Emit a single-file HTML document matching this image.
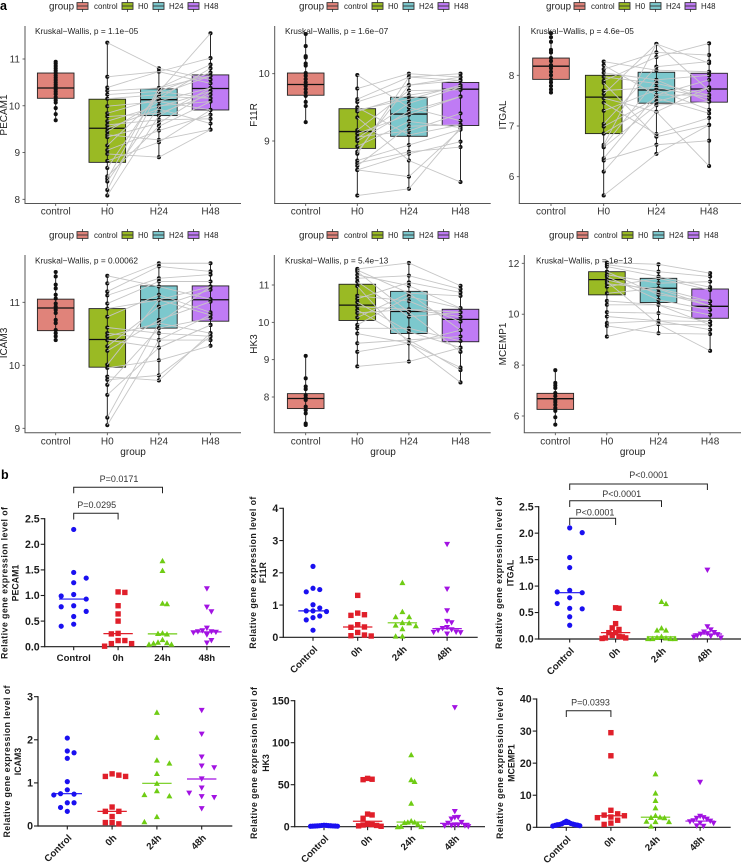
<!DOCTYPE html>
<html lang="en">
<head>
<meta charset="utf-8">
<title>Gene expression figure</title>
<style>
html,body{margin:0;padding:0;background:#fff;width:741px;height:863px;overflow:hidden}
svg{display:block;font-family:"Liberation Sans",sans-serif}
</style>
</head>
<body>
<svg id="fig" width="741" height="863" viewBox="0 0 741 863" xmlns="http://www.w3.org/2000/svg">
<rect width="741" height="863" fill="#fff"/>
<text x="0" y="10" font-size="12.5" font-weight="bold" fill="#000">a</text>
<text x="1" y="479" font-size="12.5" font-weight="bold" fill="#000">b</text>
</svg>
<script>
// ---------- Panel a: category labels and colours ----------
const boxCategories = ['control','H0','H24','H48'];
const boxColors = ['#e0837a','#9aba24','#7cc8cd','#bf7bf5'];

// ---------- PECAM1 ----------
const pecam1Ticks = [8,9,10,11];
const pecam1Control = [9.69,9.82,9.95,10.07,10.12,10.18,10.25,10.3,10.35,10.4,10.45,10.5,10.55,10.6,10.65,10.7,10.75,10.8,10.85,10.9,10.94];
const pecam1H0 = [11.35,10.62,10.39,10.32,10.24,10.15,9.99,9.84,9.77,9.67,9.59,9.52,9.45,9.38,9.33,9.15,9.05,8.97,8.82,8.67,8.49,8.44,8.38,8.2,8.08];
const pecam1H24 = [10.8,10.73,10.73,10.38,10.31,10.24,10.09,10.16,9.84,10,9.7,9.93,10.1,9.27,9.63,10.2,9.47,8.9,9.22,10.3,9.56,10.38,9.98,10.31,9.79];
const pecam1H48 = [10.56,10.48,11.02,10.88,10.71,10.64,9.91,10.8,10.24,10.09,9.72,9.62,10.38,9.49,10.31,10.16,9.81,9.49,9.91,11.55,10.09,10.64,10.31,10.16,10.38];
const pecam1Q1 = [10.16,8.79,9.79,9.91];
const pecam1Median = [10.38,9.52,10.13,10.37];
const pecam1Q3 = [10.7,10.14,10.36,10.66];

// ---------- F11R ----------
const f11rTicks = [9,10];
const f11rControl = [10.59,10.41,10.26,10.24,10.15,10.12,10.01,9.97,9.92,9.87,9.82,9.77,9.72,9.67,9.58,9.52,9.28];
const f11rH0 = [9.98,9.78,9.62,9.58,9.5,9.46,9.44,9.35,9.16,9.11,9.06,9.04,9,8.92,8.84,8.81,8.71,8.67,8.63,8.57,8.57,8.19];
const f11rH24 = [9.5,10,9.95,9.83,9.09,9.62,9.68,8.71,9.75,9.39,9.15,9.56,9.44,9.29,9.83,9.95,8.94,8.84,9.22,8.81,8.47,8.29];
const f11rH48 = [9.3,9.95,10,9.9,9.24,9.83,9.8,8.39,9.76,9.66,9.41,9.8,9.66,9.2,9.95,9.9,9.17,8.91,9.24,8.99,9.17,9.2];
const f11rQ1 = [9.68,8.89,9.07,9.23];
const f11rMedian = [9.84,9.14,9.4,9.77];
const f11rQ3 = [10.01,9.48,9.65,9.87];

// ---------- ITGAL ----------
const itgalTicks = [6,7,8];
const itgalControl = [8.83,8.75,8.66,8.5,8.45,8.34,8.28,8.2,8.14,8.07,8,7.92,7.86,7.79,7.72,7.66];
const itgalH0 = [8.27,8.2,8.12,8.05,7.97,7.89,7.85,7.7,7.63,7.55,7.46,7.3,7.04,6.99,6.85,6.63,6.58,6.36,6.32,6.1,5.63,6.6];
const itgalH24 = [8.1,7.61,8.45,7.91,7.84,8.36,6.79,7.76,8.62,7.28,6.84,7.71,8.17,7.55,7.48,8.62,7.41,7.61,6.63,7.28,6.45,7.91];
const itgalH48 = [8.07,7.91,8.4,7.48,7.61,8.63,7.02,7.55,7.7,6.21,7.16,7.32,8.27,7.25,7.76,8.24,7.48,7.61,6.71,7.76,7.02,8.0];
const itgalQ1 = [7.92,6.85,7.45,7.47];
const itgalMedian = [8.18,7.57,7.71,7.73];
const itgalQ3 = [8.34,8.0,8.06,8.04];

// ---------- ICAM3 ----------
const icam3Ticks = [9,10,11];
const icam3Control = [11.48,11.41,11.28,11.22,11.12,11.06,10.98,10.93,10.88,10.83,10.72,10.67,10.56,10.51,10.46,10.4];
const icam3H0 = [11.42,11.3,11.17,11.11,10.98,10.9,10.77,10.6,10.51,10.46,10.4,10.3,10.23,10.01,9.96,9.82,9.77,9.69,9.53,9.17,9.05];
const icam3H24 = [11.25,11.62,11.57,11.38,11.33,11.04,11.12,10.51,10.4,10.67,10.28,10.93,10.72,11.04,10.08,9.76,9.84,10.59,10.28,10.67,10.4];
const icam3H48 = [11.05,11.62,11.49,11.44,11.33,11.25,10.84,10.46,10.4,10.51,10.64,11.2,11.01,10.8,10.31,10.51,10.46,10.75,10.64,11.25,10.8];
const icam3Q1 = [10.55,9.97,10.59,10.7];
const icam3Median = [10.91,10.41,11.04,11.04];
const icam3Q3 = [11.05,10.9,11.26,11.26];

// ---------- HK3 ----------
const hk3Ticks = [8,9,10,11];
const hk3Control = [9.1,8.5,8.28,8.21,8.05,7.98,7.92,7.74,7.65,7.56,7.29,7.25];
const hk3H0 = [11.43,11.36,11.27,11.18,11.09,10.97,10.71,10.63,10.54,10.42,10.33,10.13,9.93,9.84,9.7,9.44,9.21,8.82,11.4,10.25];
const hk3H24 = [11.59,10.27,10.98,11.25,10.15,9.44,10.57,11.07,9.75,10.35,9.53,10.78,10.69,9.84,9.44,9.53,9.44,8.95,10.78,10.35];
const hk3H48 = [10.98,9.21,10.38,10.89,10.27,8.39,10.02,10.8,9.32,10.27,8.72,10.71,10.38,9.5,8.79,9.62,9.79,9.32,9.79,10.15];
const hk3Q1 = [7.69,10.05,9.7,9.48];
const hk3Median = [7.96,10.46,10.29,10.08];
const hk3Q3 = [8.09,11.02,10.83,10.35];

// ---------- MCEMP1 ----------
const mcemp1Ticks = [6,8,10,12];
const mcemp1Control = [7.8,7.3,7.2,7.1,6.9,6.78,6.64,6.55,6.44,6.31,6.2,5.95,5.66];
const mcemp1H0 = [12.03,11.95,11.87,11.67,11.55,11.48,11.28,11.2,11.08,10.82,10.52,10.37,10.08,9.91,9.65,9.54,11.35,9.12];
const mcemp1H24 = [11.96,11.67,11.48,10.76,11.22,10.56,9.61,10.99,11.41,11.02,10.37,10.37,10.04,9.74,9.74,9.25,10.85,9.61];
const mcemp1H48 = [11.61,11.48,11.06,10.5,11.28,10.17,8.56,10.33,10.95,10.5,9.97,9.58,9.71,9.71,9.39,9.22,10.33,9.58];
const mcemp1Q1 = [6.26,10.76,10.46,9.84];
const mcemp1Median = [6.68,11.36,11.02,10.31];
const mcemp1Q3 = [6.89,11.67,11.41,10.99];

// ---------- Panel b: categories ----------
const dotCategories = ['Control','0h','24h','48h'];
const dotColors = ['#1a10f0','#e01f2a','#6fcc14','#a212e2'];

const dotPecam1Ticks = ['0.0','0.5','1.0','1.5','2.0','2.5'];
const dotPecam1Control = [2.29,1.45,1.34,1.25,1.02,0.99,0.93,0.8,0.78,0.69,0.59,0.44,0.4];
const dotPecam1H0 = [1.07,1.06,0.8,0.64,0.5,0.26,0.25,0.12,0.12,0.06,0.06,0.01];
const dotPecam1H24 = [1.68,1.49,0.85,0.84,0.27,0.26,0.25,0.14,0.09,0.08,0.07,0.05,0.05];
const dotPecam1H48 = [1.13,0.77,0.68,0.36,0.31,0.29,0.29,0.28,0.27,0.23,0.12,0.07];

const dotF11rTicks = ['0','1','2','3','4'];
const dotF11rControl = [2.2,1.52,1.48,1.41,1.01,0.91,0.82,0.82,0.8,0.66,0.61,0.54,0.22];
const dotF11rH0 = [1.3,0.75,0.7,0.68,0.39,0.32,0.31,0.15,0.07,0.05,0.04];
const dotF11rH24 = [1.7,0.8,0.64,0.64,0.46,0.45,0.38,0.36,0.27,0.04,0.04];
const dotF11rH48 = [2.88,1.49,0.82,0.49,0.45,0.3,0.27,0.23,0.21,0.16,0.15,0.14,0.1];

const dotItgalTicks = ['0.0','0.5','1.0','1.5','2.0','2.5'];
const dotItgalControl = [2.1,2.01,1.54,1.35,0.92,0.89,0.875,0.78,0.67,0.58,0.57,0.42,0.26];
const dotItgalH0 = [0.59,0.58,0.29,0.21,0.18,0.12,0.12,0.07,0.05,0.04,0.02,0.02,0.01];
const dotItgalH24 = [0.71,0.67,0.21,0.17,0.17,0.05,0.03,0.02,0.01,0.01,0.01,0.01];
const dotItgalH48 = [1.3,0.23,0.17,0.13,0.12,0.1,0.09,0.08,0.06,0.05,0.03,0.02];

const dotIcam3Ticks = ['0','1','2','3'];
const dotIcam3Control = [2.04,1.74,1.7,1.57,1.03,0.84,0.75,0.74,0.72,0.54,0.54,0.43,0.34];
const dotIcam3H0 = [1.21,1.18,1.15,1.15,0.44,0.34,0.34,0.22,0.08,0.08,0.05];
const dotIcam3H24 = [2.64,2.06,1.53,1.46,1.22,0.99,0.82,0.73,0.7,0.22,0.1];
const dotIcam3H48 = [2.68,2.13,1.6,1.39,1.35,1.09,0.88,0.76,0.68,0.66,0.4];

const dotHk3Ticks = ['0','50','100','150'];
const dotHk3Control = [1.8,1.6,1.5,1.3,1.2,1.1,1,0.9,0.8,0.8,0.7,0.6,0.5];
const dotHk3H0 = [57.5,56.5,56,15,14,10,3,2.5,2,1.5,1,0.5];
const dotHk3H24 = [85.7,56,54,28,7,5.5,5.5,5,3,0.5,0.2,0];
const dotHk3H48 = [141.7,18,11,10.7,9,5,4,2,2,1.5,1,0.8,0];

const dotMcemp1Ticks = ['0','10','20','30','40'];
const dotMcemp1Control = [1.9,1.6,1.5,1.2,1.1,1,0.9,0.8,0.8,0.7,0.6,0.5,0.4];
const dotMcemp1H0 = [29.5,22.3,5.3,4.2,3.8,3.6,3.2,3,2.2,1.3,0.9];
const dotMcemp1H24 = [16.7,10.7,8.4,6.1,3.7,3.2,3.1,3,1.9,1.8,1.8,0.4];
const dotMcemp1H48 = [14,3.4,3,2.8,2.5,2,1.9,1.7,1.3,1.2,0.4,0.3];

// ---------- helpers ----------
const svg = document.getElementById('fig');
const NS = 'http://www.w3.org/2000/svg';
function mk(parent, tag, attrs, txt){
  const el = document.createElementNS(NS, tag);
  for (const k in attrs) el.setAttribute(k, attrs[k]);
  if (txt !== undefined) el.textContent = txt;
  parent.appendChild(el);
  return el;
}
function linScale(v1, p1, v2, p2){
  const k = (p2 - p1) / (v2 - v1);
  return v => p1 + (v - v1) * k;
}

// ---------- Panel a layout ----------
const boxPanels = [
 {gene:'PECAM1',p:'Kruskal\u2212Wallis, p = 1.1e\u221205',ax:25,top:26,bot:203.5,right:241,x0:55.7,step:51.6,cal:[8,199.3,11,59],ticks:pecam1Ticks,series:[pecam1Control,pecam1H0,pecam1H24,pecam1H48],q1:pecam1Q1,med:pecam1Median,q3:pecam1Q3,labX:4,labY:115,pX:35,pY:31,legY:6,legDx:0,xTitle:false,xLab:211},
 {gene:'F11R',p:'Kruskal\u2212Wallis, p = 1.6e\u221207',ax:274.7,top:26,bot:203.5,right:490.7,x0:305.7,step:51.6,cal:[9,141,10,73.7],ticks:f11rTicks,series:[f11rControl,f11rH0,f11rH24,f11rH48],q1:f11rQ1,med:f11rMedian,q3:f11rQ3,labX:254,labY:115,pX:285,pY:31,legY:6,legDx:250,xTitle:false,xLab:211},
 {gene:'ITGAL',p:'Kruskal\u2212Wallis, p = 4.6e\u221205',ax:519.3,top:26,bot:203.5,right:741,x0:551,step:52.7,cal:[6,176.7,8,75.3],ticks:itgalTicks,series:[itgalControl,itgalH0,itgalH24,itgalH48],q1:itgalQ1,med:itgalMedian,q3:itgalQ3,labX:503,labY:115,pX:530.7,pY:31,legY:6,legDx:497,xTitle:false,xLab:211},
 {gene:'ICAM3',p:'Kruskal\u2212Wallis, p = 0.00062',ax:25,top:255,bot:432.7,right:241,x0:55.7,step:51.6,cal:[9,428.3,11,302.3],ticks:icam3Ticks,series:[icam3Control,icam3H0,icam3H24,icam3H48],q1:icam3Q1,med:icam3Median,q3:icam3Q3,labX:4,labY:343,pX:35,pY:260.3,legY:235,legDx:0,xTitle:true,xLab:441},
 {gene:'HK3',p:'Kruskal\u2212Wallis, p = 5.4e\u221213',ax:274.3,top:255,bot:432.7,right:490.7,x0:305.7,step:51.6,cal:[8,397,11,285],ticks:hk3Ticks,series:[hk3Control,hk3H0,hk3H24,hk3H48],q1:hk3Q1,med:hk3Median,q3:hk3Q3,labX:254,labY:344,pX:285,pY:260.3,legY:235,legDx:250,xTitle:true,xLab:441},
 {gene:'MCEMP1',p:'Kruskal\u2212Wallis, p = 1e\u221213',ax:524.3,top:255,bot:432.7,right:741,x0:555.3,step:51.6,cal:[6,416,12,263.3],ticks:mcemp1Ticks,series:[mcemp1Control,mcemp1H0,mcemp1H24,mcemp1H48],q1:mcemp1Q1,med:mcemp1Median,q3:mcemp1Q3,labX:503,labY:344,pX:536,pY:260.3,legY:235,legDx:500,xTitle:true,xLab:441}
];

const legendKeyX = [77,122,153,188];
const legendTextX = [94,138,169,204];

function drawLegend(parent, P){
  const g = mk(parent,'g',{});
  
  
  const title = mk(g,'text',{x:49+P.legDx,y:P.legY+3.5,'font-size':9.8,fill:'#222'},'group');
  
  
  boxCategories.forEach((c,i)=>{
    const x = legendKeyX[i]+P.legDx, y = P.legY;
    const k = mk(g,'g',{});
    
    
    mk(k,'line',{x1:x+5.5,x2:x+5.5,y1:y-6,y2:y+6,stroke:'#333','stroke-width':0.8});
    mk(k,'rect',{x:x,y:y-3.4,width:11,height:6.8,fill:boxColors[i],stroke:'#333','stroke-width':0.9});
    mk(k,'line',{x1:x,x2:x+11,y1:y,y2:y,stroke:'#333','stroke-width':0.9});
    const t = mk(g,'text',{x:legendTextX[i]+P.legDx,y:y+2.9,'font-size':7.9,fill:'#222'},c);
    
    
  });
}

function drawBoxPanel(P){
  const g = mk(svg,'g',{});
  
  
  drawLegend(g,P);
  const y = linScale(P.cal[0],P.cal[1],P.cal[2],P.cal[3]);
  const x = i => P.x0 + i*P.step;
  const BW = 18.3;
  const ya = mk(g,'line',{x1:P.ax,x2:P.ax,y1:P.top,y2:P.bot,stroke:'#555','stroke-width':1});
  
  
  const xa = mk(g,'line',{x1:P.ax-0.5,x2:P.right,y1:P.bot,y2:P.bot,stroke:'#555','stroke-width':1});
  
  
  P.ticks.forEach(t=>{
    const yy = y(t);
    mk(g,'line',{x1:P.ax-2.5,x2:P.ax,y1:yy,y2:yy,stroke:'#444','stroke-width':0.8});
    const lab = mk(g,'text',{x:P.ax-5,y:yy+3.5,'font-size':10,'text-anchor':'end',fill:'#333'},String(t));
    
    
  });
  boxCategories.forEach((c,i)=>{
    const xx = x(i);
    mk(g,'line',{x1:xx,x2:xx,y1:P.bot,y2:P.bot+2.5,stroke:'#444','stroke-width':0.8});
    const lab = mk(g,'text',{x:xx,y:P.xLab+3.5,'font-size':10,'text-anchor':'middle',fill:'#333'},c);
    
    
  });
  const yt = mk(g,'text',{x:0,y:0,'font-size':10,'text-anchor':'middle',fill:'#222',transform:'translate('+(P.labX+3)+','+P.labY+') rotate(-90)'},P.gene);
  
  
  if (P.xTitle){
    const xt = mk(g,'text',{x:(P.x0+P.x0+3*P.step)/2,y:455,'font-size':10,'text-anchor':'middle',fill:'#222'},'group');
    
    
  }
  boxCategories.forEach((c,i)=>{
    const xx = x(i), vals = P.series[i];
    const rect = mk(g,'rect',{x:xx-BW,y:y(P.q3[i]),width:2*BW,height:y(P.q1[i])-y(P.q3[i]),fill:boxColors[i],stroke:'#222','stroke-width':0.9});
    
    
    const md = mk(g,'line',{x1:xx-BW,x2:xx+BW,y1:y(P.med[i]),y2:y(P.med[i]),stroke:'#111','stroke-width':1.3});
    
    
    const wh = mk(g,'line',{x1:xx,x2:xx,y1:y(Math.max.apply(null,vals)),y2:y(Math.min.apply(null,vals)),stroke:'#111','stroke-width':0.9});
    
    
    vals.forEach(v=>{
      const dot = mk(g,'circle',{cx:xx,cy:y(v),r:2.05,fill:'#111'});
      
      
    });
  });
  for (let s=1;s<3;s++){
    P.series[s].forEach((v,j)=>{
      const l = mk(g,'line',{x1:x(s),y1:y(v),x2:x(s+1),y2:y(P.series[s+1][j]),stroke:'#c6c6c6','stroke-width':0.9});
      
      
    });
  }
  const pv = mk(g,'text',{x:P.pX,y:P.pY+3,'font-size':8.3,fill:'#222'},P.p);
  
  
}
boxPanels.forEach(drawBoxPanel);

// ---------- Panel b layout ----------
const dotPanels = [
 {gene:'PECAM1',ax:44.7,right:230,x0:73.7,step:44.4,cal:[0,646.7,2.5,518.7],ticks:dotPecam1Ticks,series:[dotPecam1Control,dotPecam1H0,dotPecam1H24,dotPecam1H48],titleX:[7.5,18.5],titleY:583,rot:false,
  brackets:[{a:0,b:1,y:513.3,t:519.5,label:'P=0.0295',tx:96.7,ty:505},{a:0,b:2,y:487.3,t:493.3,label:'P=0.0171',tx:119,ty:478.7}]},
 {gene:'F11R',ax:283.3,right:477.7,x0:313,step:44.7,cal:[0,637.3,4,508.3],ticks:dotF11rTicks,series:[dotF11rControl,dotF11rH0,dotF11rH24,dotF11rH48],titleX:[256,266],titleY:572.7,rot:true,brackets:[]},
 {gene:'ITGAL',ax:538.7,right:741,x0:569.7,step:45.9,cal:[0,639,2.5,506.7],ticks:dotItgalTicks,series:[dotItgalControl,dotItgalH0,dotItgalH24,dotItgalH48],titleX:[502,513.5],titleY:573,rot:true,
  brackets:[{a:0,b:1,y:518.3,t:525,label:'P<0.0001',tx:595,ty:512.3},{a:0,b:2,y:500.7,t:507,label:'P<0.0001',tx:621.7,ty:493.7},{a:0,b:3,y:484,t:490,label:'P<0.0001',tx:648.7,ty:475}]},
 {gene:'ICAM3',ax:38,right:232.3,x0:67.3,step:44.8,cal:[0,826,3,696.7],ticks:dotIcam3Ticks,series:[dotIcam3Control,dotIcam3H0,dotIcam3H24,dotIcam3H48],titleX:[10,21],titleY:761.5,rot:true,brackets:[]},
 {gene:'HK3',ax:294.7,right:485,x0:324,step:43.6,cal:[0,826.7,150,700.7],ticks:dotHk3Ticks,series:[dotHk3Control,dotHk3H0,dotHk3H24,dotHk3H48],titleX:[257,269],titleY:763,rot:true,brackets:[]},
 {gene:'MCEMP1',ax:536.7,right:730.7,x0:566.3,step:44.6,cal:[0,827.3,40,699],ticks:dotMcemp1Ticks,series:[dotMcemp1Control,dotMcemp1H0,dotMcemp1H24,dotMcemp1H48],titleX:[503,514.5],titleY:763,rot:true,
  brackets:[{a:0,b:1,y:710.7,t:717,label:'P=0.0393',tx:590.5,ty:702.5}]}
];

function median(vals){
  const s = vals.slice().sort((a,b)=>a-b), n = s.length;
  return n%2 ? s[(n-1)/2] : (s[n/2-1]+s[n/2])/2;
}
// Swarm layout: spread points that overlap vertically, computed from the values
function swarmOffsets(vals, y){
  const order = vals.map((v,i)=>i).sort((a,b)=>vals[b]-vals[a]);
  const placed = [], slots = new Array(vals.length);
  let side = 1, maxSlot = 0;
  order.forEach(i=>{
    const yy = y(vals[i]);
    let k = 0, s = 0;
    for (;;k++){
      const cands = k===0 ? [0] : [side*k, -side*k];
      let found = false;
      for (const c of cands){
        if (!placed.some(p=>p.s===c && Math.abs(p.y-yy)<6)){ s=c; found=true; break; }
      }
      if (found) break;
    }
    placed.push({s:s,y:yy});
    slots[i]=s;
    if (s!==0) side=-side;
    maxSlot=Math.max(maxSlot,Math.abs(s));
  });
  const stepPx = maxSlot ? Math.min(12.5, 13.5/maxSlot) : 0;
  return slots.map(s=>s*stepPx);
}
function drawMarker(parent, shape, cx, cy, color){
  if (shape===0) return mk(parent,'circle',{cx:cx,cy:cy,r:2.6,fill:color});
  if (shape===1) return mk(parent,'rect',{x:cx-2.7,y:cy-2.7,width:5.4,height:5.4,fill:color});
  if (shape===2) return mk(parent,'polygon',{points:(cx-3)+','+(cy+2.6)+' '+(cx+3)+','+(cy+2.6)+' '+cx+','+(cy-2.8),fill:color});
  return mk(parent,'polygon',{points:(cx-3)+','+(cy-2.6)+' '+(cx+3)+','+(cy-2.6)+' '+cx+','+(cy+2.8),fill:color});
}
function drawDotPanel(P){
  const g = mk(svg,'g',{});
  
  
  const y = linScale(P.cal[0],P.cal[1],P.cal[2],P.cal[3]);
  const x = i => P.x0 + i*P.step;
  const tickVals = P.ticks.map(Number);
  const topY = y(Math.max.apply(null,tickVals));
  const ya = mk(g,'line',{x1:P.ax,x2:P.ax,y1:topY-0.6,y2:y(0)+0.6,stroke:'#1c1c1c','stroke-width':1.2});
  
  
  const xa = mk(g,'line',{x1:P.ax,x2:P.right,y1:y(0),y2:y(0),stroke:'#1c1c1c','stroke-width':1.2});
  
  
  P.ticks.forEach(t=>{
    const yy = y(Number(t));
    mk(g,'line',{x1:P.ax-4,x2:P.ax,y1:yy,y2:yy,stroke:'#1c1c1c','stroke-width':1.1});
    const lab = mk(g,'text',{x:P.ax-5,y:yy+3.7,'font-size':10.6,'font-weight':'bold','text-anchor':'end',fill:'#1c1c1c'},t);
    
    
  });
  dotCategories.forEach((c,i)=>{
    const xx = x(i);
    mk(g,'line',{x1:xx,x2:xx,y1:y(0),y2:y(0)+3.5,stroke:'#1c1c1c','stroke-width':1.1});
    const attrs = P.rot
      ? {x:0,y:0,'font-size':9.6,'font-weight':'bold','text-anchor':'end',fill:'#1c1c1c',transform:'translate('+(xx+5)+','+(y(0)+12.5)+') rotate(-45)'}
      : {x:xx,y:y(0)+14.5,'font-size':9.6,'font-weight':'bold','text-anchor':'middle',fill:'#1c1c1c'};
    const lab = mk(g,'text',attrs,c);
    
    
  });
  const t1 = mk(g,'text',{x:0,y:0,'font-size':8.8,'font-weight':'bold','text-anchor':'middle',fill:'#1c1c1c',textLength:152,lengthAdjust:'spacing',transform:'translate('+P.titleX[0]+','+P.titleY+') rotate(-90)'},'Relative gene expression level of');
  
  
  const t2 = mk(g,'text',{x:0,y:0,'font-size':8.8,'font-weight':'bold','text-anchor':'middle',fill:'#1c1c1c',transform:'translate('+P.titleX[1]+','+P.titleY+') rotate(-90)'},P.gene);
  
  
  dotCategories.forEach((c,i)=>{
    const vals = P.series[i], off = swarmOffsets(vals,y);
    vals.forEach((v,j)=>{
      const m = drawMarker(g,i,x(i)+off[j],y(v),dotColors[i]);
      
      
    });
    const md = y(median(vals));
    const ml = mk(g,'line',{x1:x(i)-14.7,x2:x(i)+14.7,y1:md,y2:md,stroke:dotColors[i],'stroke-width':1.2});
    
    
  });
  P.brackets.forEach(b=>{
    const xa0 = x(b.a), xb0 = x(b.b);
    const br = mk(g,'polyline',{points:xa0+','+b.t+' '+xa0+','+b.y+' '+xb0+','+b.y+' '+xb0+','+b.t,fill:'none',stroke:'#222','stroke-width':1});
    
    
    const t = mk(g,'text',{x:b.tx,y:b.ty+3.2,'font-size':9,'text-anchor':'middle',fill:'#333'},b.label);
    
    
  });
}
dotPanels.forEach(drawDotPanel);
</script>
</body>
</html>
